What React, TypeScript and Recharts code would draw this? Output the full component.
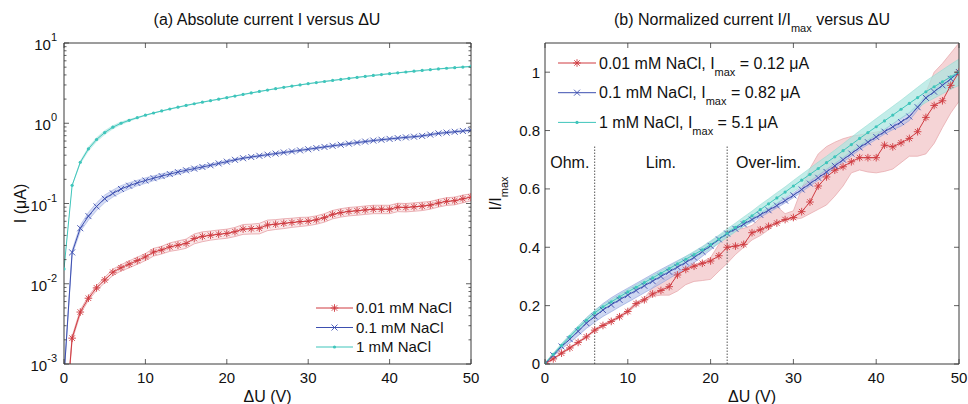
import React from "react";
import {
  ComposedChart,
  Line,
  Area,
  XAxis,
  YAxis,
  ReferenceLine,
  ReferenceDot,
  Legend,
} from "recharts";

const FONT = '"Liberation Sans", Arial, Helvetica, sans-serif';
const FRAME = "#3a3a3a";
const RED = "#cf3a40";
const BLUE = "#3d4fb0";
const TEAL = "#3fc5bb";

// applied voltage (V)
const voltages = [
  0, 1, 2, 3, 4, 5, 6, 7, 8, 9, 10, 11, 12, 13, 14, 15, 16, 17, 18, 19, 20, 21, 22, 23, 24, 25,
  26, 27, 28, 29, 30, 31, 32, 33, 34, 35, 36, 37, 38, 39, 40, 41, 42, 43, 44, 45, 46, 47, 48, 49, 50,
];

// maximum current per concentration (µA)
const imaxRed = 0.12;
const imaxBlue = 0.82;
const imaxTeal = 5.1;

// normalized current I/Imax
const redNorm = [
  0.001, 0.0175, 0.037, 0.055, 0.074, 0.093, 0.116, 0.132, 0.146, 0.162,
  0.18, 0.207, 0.22, 0.24, 0.252, 0.265, 0.305, 0.324, 0.335, 0.345,
  0.353, 0.371, 0.4, 0.404, 0.41, 0.45, 0.46, 0.472, 0.483, 0.495,
  0.502, 0.522, 0.555, 0.61, 0.641, 0.664, 0.676, 0.693, 0.707, 0.707,
  0.707, 0.75, 0.744, 0.758, 0.773, 0.796, 0.845, 0.886, 0.902, 0.955,
  1.0,
];
const blueNorm = [
  0.00085, 0.03, 0.06, 0.085, 0.112, 0.14, 0.163, 0.185, 0.203, 0.22,
  0.236, 0.252, 0.268, 0.284, 0.3, 0.316, 0.332, 0.348, 0.365, 0.385,
  0.405, 0.427, 0.447, 0.463, 0.479, 0.495, 0.511, 0.527, 0.543, 0.56,
  0.578, 0.598, 0.618, 0.638, 0.658, 0.679, 0.7, 0.721, 0.742, 0.76,
  0.778, 0.796, 0.813, 0.829, 0.848, 0.88, 0.912, 0.933, 0.955, 0.977,
  1.0,
];
const tealNorm = [
  0.003, 0.033, 0.064, 0.094, 0.123, 0.15, 0.175, 0.196, 0.213, 0.23,
  0.247, 0.263, 0.279, 0.295, 0.311, 0.327, 0.343, 0.359, 0.375, 0.391,
  0.409, 0.428, 0.448, 0.468, 0.488, 0.508, 0.529, 0.549, 0.569, 0.589,
  0.61, 0.63, 0.65, 0.67, 0.69, 0.71, 0.731, 0.752, 0.773, 0.793,
  0.813, 0.833, 0.853, 0.873, 0.893, 0.913, 0.933, 0.95, 0.967, 0.984,
  1.0,
];

// spread of the normalized 0.01 mM curve
const redLowNorm = [
  0, 0.015, 0.034, 0.052, 0.071, 0.09, 0.112, 0.128, 0.142, 0.158,
  0.176, 0.2, 0.215, 0.232, 0.236, 0.236, 0.25, 0.272, 0.283, 0.286,
  0.29, 0.318, 0.345, 0.375, 0.4, 0.425, 0.44, 0.46, 0.485, 0.492,
  0.495, 0.5, 0.515, 0.53, 0.545, 0.575, 0.61, 0.655, 0.665, 0.658,
  0.655, 0.66, 0.668, 0.69, 0.712, 0.712, 0.72, 0.756, 0.81, 0.86,
  0.9,
];
const redHighNorm = [
  0.002, 0.02, 0.04, 0.058, 0.077, 0.096, 0.12, 0.136, 0.15, 0.166,
  0.186, 0.212, 0.226, 0.262, 0.29, 0.305, 0.318, 0.33, 0.34, 0.35,
  0.365, 0.41, 0.455, 0.46, 0.465, 0.475, 0.5, 0.53, 0.54, 0.515,
  0.525, 0.6, 0.67, 0.72, 0.745, 0.76, 0.772, 0.78, 0.785, 0.79,
  0.795, 0.8, 0.81, 0.83, 0.85, 0.875, 0.93, 1.0, 1.03, 1.065,
  1.1,
];
const blueHalfNorm = [
  0.001, 0.004, 0.008, 0.012, 0.015, 0.018, 0.02, 0.022, 0.024, 0.024,
  0.024, 0.024, 0.024, 0.024, 0.024, 0.023, 0.022, 0.02, 0.018, 0.016,
  0.014, 0.012, 0.009, 0.008, 0.008, 0.008, 0.008, 0.008, 0.008, 0.008,
  0.008, 0.008, 0.008, 0.008, 0.008, 0.008, 0.008, 0.008, 0.008, 0.008,
  0.008, 0.008, 0.01, 0.014, 0.014, 0.01, 0.008, 0.008, 0.008, 0.008,
  0.008,
];
const tealHalfNorm = [
  0.002, 0.004, 0.006, 0.007, 0.008, 0.008, 0.008, 0.008, 0.008, 0.008,
  0.008, 0.008, 0.008, 0.008, 0.008, 0.008, 0.009, 0.01, 0.011, 0.012,
  0.013, 0.014, 0.015, 0.015, 0.016, 0.016, 0.017, 0.017, 0.018, 0.018,
  0.019, 0.02, 0.021, 0.022, 0.022, 0.023, 0.024, 0.025, 0.026, 0.027,
  0.028, 0.029, 0.03, 0.031, 0.033, 0.035, 0.037, 0.039, 0.041, 0.043,
  0.045,
];

// relative spread of the absolute currents
const redSpreadAbs = [
  0.06, 0.06, 0.06, 0.06, 0.07, 0.08, 0.09, 0.09, 0.1, 0.1,
  0.1, 0.11, 0.11, 0.12, 0.13, 0.13, 0.14, 0.14, 0.13, 0.13,
  0.13, 0.13, 0.14, 0.14, 0.15, 0.15, 0.14, 0.14, 0.13, 0.13,
  0.12, 0.12, 0.12, 0.12, 0.12, 0.12, 0.12, 0.12, 0.12, 0.12,
  0.12, 0.12, 0.12, 0.12, 0.12, 0.11, 0.11, 0.11, 0.11, 0.11,
  0.1,
];
const blueSpreadAbs = [
  0.04, 0.06, 0.09, 0.11, 0.11, 0.11, 0.1, 0.1, 0.09, 0.08,
  0.08, 0.07, 0.07, 0.06, 0.06, 0.05, 0.05, 0.05, 0.04, 0.04,
  0.04, 0.03, 0.03, 0.03, 0.03, 0.03, 0.03, 0.03, 0.03, 0.03,
  0.03, 0.03, 0.03, 0.03, 0.03, 0.03, 0.03, 0.03, 0.03, 0.03,
  0.03, 0.03, 0.03, 0.03, 0.03, 0.03, 0.03, 0.03, 0.03, 0.03,
  0.03,
];
const tealSpreadAbs = [
  0.03, 0.04, 0.06, 0.07, 0.07, 0.07, 0.06, 0.05, 0.04, 0.03,
  0.02, 0.02, 0.02, 0.02, 0.02, 0.02, 0.02, 0.02, 0.02, 0.02,
  0.02, 0.02, 0.02, 0.02, 0.02, 0.02, 0.02, 0.02, 0.02, 0.02,
  0.02, 0.02, 0.02, 0.02, 0.02, 0.02, 0.02, 0.02, 0.02, 0.02,
  0.02, 0.02, 0.02, 0.02, 0.02, 0.02, 0.02, 0.02, 0.02, 0.02,
  0.02,
];

const seriesNames = ["0.01 mM NaCl", "0.1 mM NaCl", "1 mM NaCl"];
const uTicks = [0, 10, 20, 30, 40, 50];
const normTicks = [0, 0.2, 0.4, 0.6, 0.8, 1];
const logTicks = [0.001, 0.01, 0.1, 1, 10];
const minorLogTicks = logTicks
  .slice(0, -1)
  .flatMap((d) => [2, 3, 4, 5, 6, 7, 8, 9].map((k) => d * k));
const allLogTicks = [...logTicks, ...minorLogTicks];
const regimeBounds = [6, 22];

const absRows = voltages.map((u, i) => {
  const r = redNorm[i] * imaxRed;
  const b = blueNorm[i] * imaxBlue;
  const t = tealNorm[i] * imaxTeal;
  return {
    u,
    red: r,
    blue: b,
    teal: t,
    redBand: [r * (1 - redSpreadAbs[i]), r * (1 + redSpreadAbs[i])],
    blueBand: [b * (1 - blueSpreadAbs[i]), b * (1 + blueSpreadAbs[i])],
    tealBand: [t * (1 - tealSpreadAbs[i]), t * (1 + tealSpreadAbs[i])],
  };
});

const normRows = voltages.map((u, i) => ({
  u,
  red: redNorm[i],
  blue: blueNorm[i],
  teal: tealNorm[i],
  redBand: [redLowNorm[i], redHighNorm[i]],
  blueBand: [blueNorm[i] - blueHalfNorm[i], blueNorm[i] + blueHalfNorm[i]],
  tealBand: [tealNorm[i] - tealHalfNorm[i], tealNorm[i] + tealHalfNorm[i]],
}));

type Kind = "star" | "cross" | "dot";

const Marker = ({ kind, cx, cy }: { kind: Kind; cx: number; cy: number }) => {
  if (kind === "star") {
    const r = 3.8;
    const d = r * 0.72;
    return (
      <g stroke={RED} strokeWidth={0.9}>
        <line x1={cx - r} y1={cy} x2={cx + r} y2={cy} />
        <line x1={cx} y1={cy - r} x2={cx} y2={cy + r} />
        <line x1={cx - d} y1={cy - d} x2={cx + d} y2={cy + d} />
        <line x1={cx - d} y1={cy + d} x2={cx + d} y2={cy - d} />
      </g>
    );
  }
  if (kind === "cross") {
    const r = 3;
    return (
      <g stroke={BLUE} strokeWidth={0.9}>
        <line x1={cx - r} y1={cy - r} x2={cx + r} y2={cy + r} />
        <line x1={cx - r} y1={cy + r} x2={cx + r} y2={cy - r} />
      </g>
    );
  }
  return <circle cx={cx} cy={cy} r={1.6} fill={TEAL} />;
};

const dotOf = (kind: Kind) => (p: any) => {
  if (p.cx == null || p.cy == null || isNaN(p.cx) || isNaN(p.cy)) return <g key={p.index} />;
  return (
    <g key={p.index}>
      <Marker kind={kind} cx={p.cx} cy={p.cy} />
    </g>
  );
};

const isMajor = (v: number, majors: number[]) =>
  majors.some((m) => (m === 0 ? Math.abs(v) < 1e-9 : Math.abs(v / m - 1) < 1e-6));

// inward tick marks for the mirrored axes
const sideTick = (dir: number, majors: number[]) => (p: any) => {
  const len = isMajor(p.payload.value, majors) ? 5 : 2.5;
  return <line x1={p.x} y1={p.y} x2={p.x + dir * len} y2={p.y} stroke={FRAME} strokeWidth={0.8} />;
};
const edgeTick = (dir: number) => (p: any) => (
  <line x1={p.x} y1={p.y} x2={p.x} y2={p.y + dir * 5} stroke={FRAME} strokeWidth={0.8} />
);

const LogTickLabel = (p: any) => {
  const exp = Math.round(Math.log10(p.payload.value));
  return (
    <text x={p.x} y={p.y + 7} textAnchor="end" fontSize={15} fill="#111">
      10
      <tspan dy={-9} fontSize={11}>
        {exp}
      </tspan>
    </text>
  );
};

const xLabel = (p: any) => {
  const vb = p.viewBox;
  return (
    <text x={vb.x + vb.width / 2} y={vb.y + 38} textAnchor="middle" fontSize={16} fill="#111">
      ΔU (V)
    </text>
  );
};

const legendKinds: Kind[] = ["star", "cross", "dot"];
const legendColors = [RED, BLUE, TEAL];
const imaxList = [imaxRed, imaxBlue, imaxTeal];

const LeftLegend = () => (
  <svg width={180} height={70} style={{ display: "block" }}>
    {seriesNames.map((name, i) => {
      const y = 18 + i * 19.5;
      return (
        <g key={name}>
          <line x1={6} x2={43} y1={y} y2={y} stroke={legendColors[i]} strokeWidth={1} />
          <Marker kind={legendKinds[i]} cx={24.5} cy={y} />
          <text x={46} y={y + 5.4} fontSize={15} fill="#111">
            {name}
          </text>
        </g>
      );
    })}
  </svg>
);

const RightLegend = () => (
  <svg width={280} height={100} style={{ display: "block" }}>
    {seriesNames.map((name, i) => {
      const y = 18 + i * 29.7;
      return (
        <g key={name}>
          <line x1={14} x2={52} y1={y} y2={y} stroke={legendColors[i]} strokeWidth={1} />
          <Marker kind={legendKinds[i]} cx={33} cy={y} />
          <text x={55} y={y + 5.7} fontSize={16} fill="#111">
            {name}, I
            <tspan dy={7} fontSize={11}>
              max
            </tspan>
            <tspan dy={-7}>{` = ${imaxList[i]} μA`}</tspan>
          </text>
        </g>
      );
    })}
  </svg>
);

// mirrored axes: top/right frame lines and inward ticks on all four sides
const frameAxes = (yProps: any) => {
  const { majors, ...rest } = yProps;
  return [
    <XAxis
      key="bm"
      xAxisId="bm"
      type="number"
      domain={[0, 50]}
      allowDataOverflow
      ticks={uTicks}
      interval={0}
      orientation="bottom"
      mirror
      height={1}
      axisLine={false}
      tickLine={false}
      tickSize={0}
      tickMargin={0}
      tick={edgeTick(-1)}
    />,
    <XAxis
      key="t"
      xAxisId="t"
      type="number"
      domain={[0, 50]}
      allowDataOverflow
      ticks={uTicks}
      interval={0}
      orientation="top"
      mirror
      height={1}
      axisLine={{ stroke: FRAME }}
      tickLine={false}
      tickSize={0}
      tickMargin={0}
      tick={edgeTick(1)}
    />,
    <YAxis
      key="lm"
      yAxisId="lm"
      {...rest}
      orientation="left"
      mirror
      width={1}
      axisLine={false}
      tickLine={false}
      tickSize={0}
      tickMargin={0}
      tick={sideTick(1, majors)}
    />,
    <YAxis
      key="rm"
      yAxisId="rm"
      {...rest}
      orientation="right"
      mirror
      width={1}
      axisLine={{ stroke: FRAME }}
      tickLine={false}
      tickSize={0}
      tickMargin={0}
      tick={sideTick(-1, majors)}
    />,
  ];
};

const AbsoluteChart = () => (
  <ComposedChart width={484} height={404} data={absRows} margin={{ top: 43, right: 13, bottom: 0, left: 0 }}>
    <XAxis
      xAxisId="b"
      dataKey="u"
      type="number"
      domain={[0, 50]}
      allowDataOverflow
      ticks={uTicks}
      interval={0}
      height={40}
      axisLine={{ stroke: FRAME }}
      tickLine={false}
      tickSize={0}
      tickMargin={8}
      tick={{ fill: "#111", fontSize: 15 }}
      label={xLabel}
    />
    <YAxis
      yAxisId="l"
      type="number"
      scale="log"
      domain={[0.001, 10]}
      allowDataOverflow
      ticks={logTicks}
      interval={0}
      width={64}
      axisLine={{ stroke: FRAME }}
      tickLine={false}
      tickSize={0}
      tickMargin={7}
      tick={LogTickLabel}
      label={(p: any) => {
        const vb = p.viewBox;
        const cy = vb.y + vb.height / 2;
        return (
          <text x={26} y={cy} transform={`rotate(-90, 26, ${cy})`} textAnchor="middle" fontSize={16} fill="#111">
            I (μA)
          </text>
        );
      }}
    />
    {frameAxes({
      type: "number",
      scale: "log",
      domain: [0.001, 10],
      allowDataOverflow: true,
      ticks: allLogTicks,
      interval: 0,
      majors: logTicks,
    })}
    <Area xAxisId="b" yAxisId="l" dataKey="redBand" fill="#f6d9da" fillOpacity={0.6} stroke="#e6a0a5" strokeWidth={0.8} isAnimationActive={false} activeDot={false} />
    <Area xAxisId="b" yAxisId="l" dataKey="blueBand" fill="#c3cdf0" fillOpacity={0.7} stroke="#a3b0e2" strokeWidth={0.6} isAnimationActive={false} activeDot={false} />
    <Area xAxisId="b" yAxisId="l" dataKey="tealBand" fill="#b5e9e3" fillOpacity={0.8} stroke="none" isAnimationActive={false} activeDot={false} />
    <Line xAxisId="b" yAxisId="l" dataKey="red" stroke={RED} strokeWidth={1} dot={dotOf("star")} isAnimationActive={false} activeDot={false} />
    <Line xAxisId="b" yAxisId="l" dataKey="blue" stroke={BLUE} strokeWidth={1} dot={dotOf("cross")} isAnimationActive={false} activeDot={false} />
    <Line xAxisId="b" yAxisId="l" dataKey="teal" stroke={TEAL} strokeWidth={1} dot={dotOf("dot")} isAnimationActive={false} activeDot={false} />
    <Legend
      layout="vertical"
      align="center"
      verticalAlign="middle"
      wrapperStyle={{ left: 310, top: 290, width: 180, height: 70 }}
      content={() => <LeftLegend />}
    />
  </ComposedChart>
);

const regimeText = (label: string) => (p: any) => (
  <text x={p.cx} y={p.cy + 5.7} textAnchor="middle" fontSize={16} fill="#111">
    {label}
  </text>
);

const NormalizedChart = () => (
  <ComposedChart width={484} height={404} data={normRows} margin={{ top: 43, right: 9, bottom: 0, left: 0 }}>
    <XAxis
      xAxisId="b"
      dataKey="u"
      type="number"
      domain={[0, 50]}
      allowDataOverflow
      ticks={uTicks}
      interval={0}
      height={40}
      axisLine={{ stroke: FRAME }}
      tickLine={false}
      tickSize={0}
      tickMargin={8}
      tick={{ fill: "#111", fontSize: 15 }}
      label={xLabel}
    />
    <YAxis
      yAxisId="l"
      type="number"
      domain={[0, 1.1]}
      allowDataOverflow
      ticks={normTicks}
      interval={0}
      width={61}
      axisLine={{ stroke: FRAME }}
      tickLine={false}
      tickSize={0}
      tickMargin={5}
      tick={{ fill: "#111", fontSize: 15 }}
      label={(p: any) => {
        const vb = p.viewBox;
        const cy = vb.y + vb.height / 2 - 10;
        return (
          <text x={17} y={cy} transform={`rotate(-90, 17, ${cy})`} textAnchor="middle" fontSize={16} fill="#111">
            I/I
            <tspan dy={7} fontSize={11}>
              max
            </tspan>
          </text>
        );
      }}
    />
    {frameAxes({
      type: "number",
      domain: [0, 1.1],
      allowDataOverflow: true,
      ticks: normTicks,
      interval: 0,
      majors: normTicks,
    })}
    <Area xAxisId="b" yAxisId="l" dataKey="redBand" fill="#f2c5c8" fillOpacity={0.75} stroke="#e5a3a8" strokeWidth={0.7} isAnimationActive={false} activeDot={false} />
    <Area xAxisId="b" yAxisId="l" dataKey="blueBand" fill="#b4c1ea" fillOpacity={0.65} stroke="#8d9edb" strokeWidth={0.6} isAnimationActive={false} activeDot={false} />
    <Area xAxisId="b" yAxisId="l" dataKey="tealBand" fill="#a9e6df" fillOpacity={0.7} stroke="#8ad8cf" strokeWidth={0.5} isAnimationActive={false} activeDot={false} />
    {regimeBounds.map((u) => (
      <ReferenceLine
        key={u}
        xAxisId="b"
        yAxisId="l"
        segment={[
          { x: u, y: 0 },
          { x: u, y: 0.75 },
        ]}
        stroke="#444"
        strokeWidth={0.9}
        strokeDasharray="1.5 1.5"
      />
    ))}
    <ReferenceDot xAxisId="b" yAxisId="l" x={3} y={0.69} r={0} shape={regimeText("Ohm.")} />
    <ReferenceDot xAxisId="b" yAxisId="l" x={14} y={0.69} r={0} shape={regimeText("Lim.")} />
    <ReferenceDot xAxisId="b" yAxisId="l" x={27} y={0.69} r={0} shape={regimeText("Over-lim.")} />
    <Line xAxisId="b" yAxisId="l" dataKey="red" stroke={RED} strokeWidth={1} dot={dotOf("star")} isAnimationActive={false} activeDot={false} />
    <Line xAxisId="b" yAxisId="l" dataKey="blue" stroke={BLUE} strokeWidth={1} dot={dotOf("cross")} isAnimationActive={false} activeDot={false} />
    <Line xAxisId="b" yAxisId="l" dataKey="teal" stroke={TEAL} strokeWidth={1} dot={dotOf("dot")} isAnimationActive={false} activeDot={false} />
    <Legend
      layout="vertical"
      align="center"
      verticalAlign="middle"
      wrapperStyle={{ left: 60, top: 45, width: 280, height: 100 }}
      content={() => <RightLegend />}
    />
  </ComposedChart>
);

export default function App() {
  return (
    <div
      style={{
        position: "absolute",
        left: 0,
        top: 0,
        width: 968,
        height: 404,
        background: "#fff",
        fontFamily: FONT,
      }}
    >
      <svg width={968} height={40} style={{ position: "absolute", left: 0, top: 0 }}>
        <text x={267} y={25} textAnchor="middle" fontSize={16} fill="#111">
          (a) Absolute current I versus ΔU
        </text>
        <text x={752} y={25} textAnchor="middle" fontSize={16} fill="#111">
          (b) Normalized current I/I
          <tspan dy={7} fontSize={11}>
            max
          </tspan>
          <tspan dy={-7}> versus ΔU</tspan>
        </text>
      </svg>
      <div style={{ position: "absolute", left: 0, top: 0 }}>
        <AbsoluteChart />
      </div>
      <div style={{ position: "absolute", left: 484, top: 0 }}>
        <NormalizedChart />
      </div>
    </div>
  );
}
